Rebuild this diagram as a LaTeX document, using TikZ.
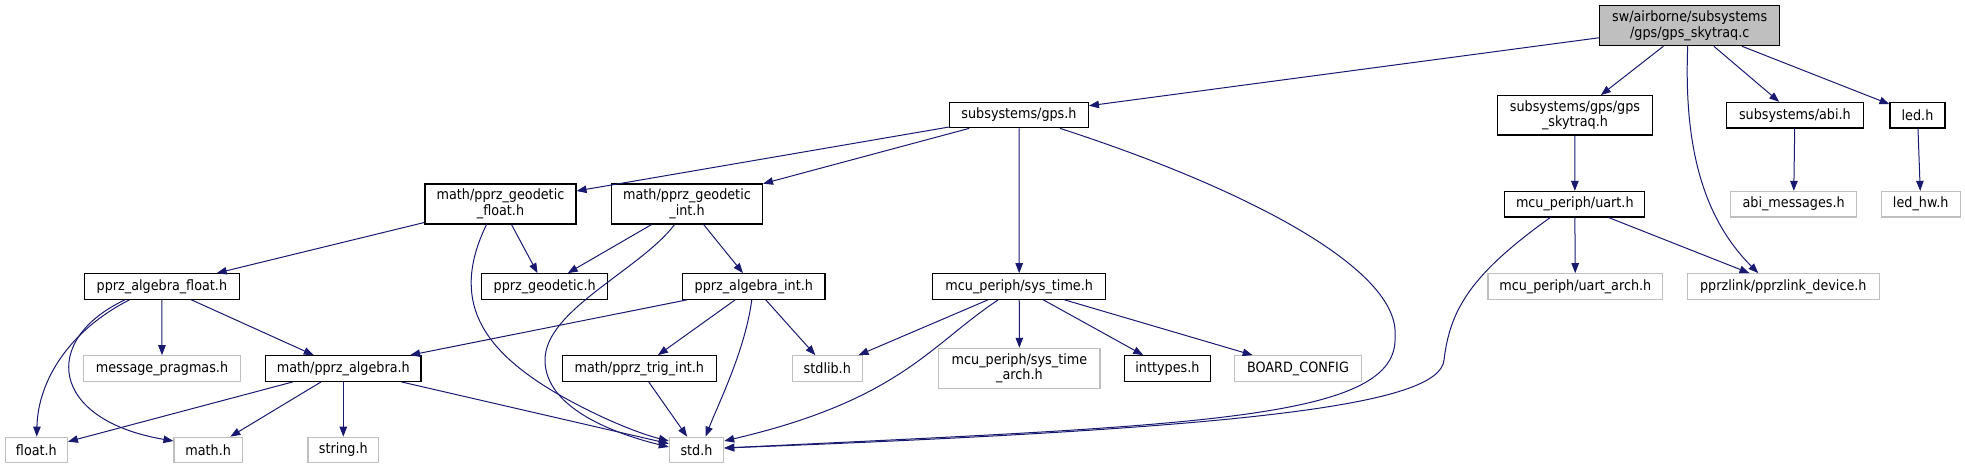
\documentclass[tikz,border=0pt]{standalone}
\usepackage{fontspec}
\setmainfont{DejaVu Sans}[FakeStretch=0.9]
\usetikzlibrary{arrows.meta, calc}
\definecolor{edgeblue}{RGB}{25,25,112}
\definecolor{boxgray}{RGB}{191,191,191}

\begin{document}
\begin{tikzpicture}[x=1pt, y=-1pt,
  hdr/.style={draw=black, fill=white, line width=1.1pt, minimum height=25.6pt,
    inner sep=2pt, align=center, font=\fontsize{14.2}{15.5}\selectfont},
  sysh/.style={hdr, draw=boxgray},
  dep/.style={draw=edgeblue, line width=1pt, -{Triangle[length=10pt,width=7.5pt]}}]
  \useasboundingbox (0,0) rectangle (1965,469);
  % rank 0
  \node[hdr, fill=boxgray, minimum width=179.8pt, minimum height=40pt] (root) at (1689.7,25.7) {sw/airborne/subsystems\\/gps/gps\_skytraq.c};
  % rank 1
  \node[hdr, minimum width=138.8pt] (gps) at (1019,115) {subsystems/gps.h};
  \node[hdr, minimum width=154.8pt, minimum height=39.3pt] (skytraq) at (1575,115.3) {subsystems/gps/gps\\\_skytraq.h};
  \node[hdr, minimum width=136.6pt] (abi) at (1794.9,115.2) {subsystems/abi.h};
  \node[hdr, minimum width=55pt] (led) at (1917.5,115.2) {led.h};
  % rank 2
  \node[hdr, minimum width=151pt, minimum height=40pt] (geofloat) at (500.5,204) {math/pprz\_geodetic\\\_float.h};
  \node[hdr, minimum width=151pt, minimum height=40pt] (geoint) at (687,204) {math/pprz\_geodetic\\\_int.h};
  \node[hdr, minimum width=140pt] (uart) at (1574.8,204.2) {mcu\_periph/uart.h};
  \node[sysh, minimum width=126.4pt] (abimsg) at (1793.6,204.2) {abi\_messages.h};
  \node[sysh, minimum width=79.3pt] (ledhw) at (1920.7,204.2) {led\_hw.h};
  % rank 3
  \node[hdr, minimum width=154.9pt] (algfloat) at (161.9,286.5) {pprz\_algebra\_float.h};
  \node[hdr, minimum width=125.9pt] (geodetic) at (544.7,286.5) {pprz\_geodetic.h};
  \node[hdr, minimum width=142.4pt] (algint) at (753.8,286.5) {pprz\_algebra\_int.h};
  \node[hdr, minimum width=173.2pt] (systime) at (1019.2,286.5) {mcu\_periph/sys\_time.h};
  \node[sysh, minimum width=174.7pt] (uartarch) at (1575.3,286.5) {mcu\_periph/uart\_arch.h};
  \node[sysh, minimum width=192.1pt] (pprzlink) at (1783.3,286.5) {pprzlink/pprzlink\_device.h};
  % rank 4
  \node[sysh, minimum width=157pt] (pragmas) at (162,368.5) {message\_pragmas.h};
  \node[hdr, minimum width=155.4pt] (algebra) at (343.3,368.5) {math/pprz\_algebra.h};
  \node[hdr, minimum width=153.5pt] (trigint) at (639.3,368.5) {math/pprz\_trig\_int.h};
  \node[sysh, minimum width=70.5pt] (stdlib) at (827.3,368.5) {stdlib.h};
  \node[sysh, minimum width=161.2pt, minimum height=40pt] (timearch) at (1019.4,368.3) {mcu\_periph/sys\_time\\\_arch.h};
  \node[hdr, minimum width=86.7pt] (inttypes) at (1167.4,368.5) {inttypes.h};
  \node[sysh, minimum width=127pt] (board) at (1298,368.5) {BOARD\_CONFIG};
  % rank 5
  \node[sysh, minimum width=62pt] (floath) at (36.4,450) {float.h};
  \node[sysh, minimum width=68.4pt] (mathh) at (208.2,450) {math.h};
  \node[sysh, minimum width=70.6pt] (stringh) at (343.3,450) {string.h};
  \node[sysh, minimum width=54.3pt] (stdh) at (696.5,450) {std.h};

  % includes of the root file
  \draw[dep] (root) -- (gps);
  \draw[dep] (root) -- (skytraq);
  \draw[dep] (root) -- (abi);
  \draw[dep] (root) -- (led);
  \draw[dep] ([xshift=-2pt]root.south) .. controls (1684,140) and (1700,215) .. ([xshift=-25pt]pprzlink.north);
  \draw[dep] (skytraq) -- (uart);
  \draw[dep] (abi) -- (abimsg);
  \draw[dep] (led) -- (ledhw);
  % gps.h
  \draw[dep] (gps) -- (geofloat);
  \draw[dep] (gps) -- (geoint);
  \draw[dep] (gps) -- (systime);
  \draw[dep] ([xshift=41pt]gps.south) .. controls (1250,190) and (1400,270) .. (1395,336)
    .. controls (1400,420) and (1200,425) .. ([yshift=2pt]stdh.east);
  % uart.h
  \draw[dep] (uart) -- (uartarch);
  \draw[dep] (uart) -- (pprzlink);
  \draw[dep] ([xshift=-24.6pt]uart.south) .. controls (1470,275) and (1450,310) .. (1444,360)
    .. controls (1440,405) and (1250,428) .. ([yshift=2pt]stdh.east);
  % geodetic headers
  \draw[dep] (geofloat) -- (algfloat);
  \draw[dep] (geofloat) -- (geodetic);
  \draw[dep] ([xshift=-14pt]geofloat.south) .. controls (450,300) and (480,350) .. (562.5,396.7)
    .. controls (610,423) and (645,435) .. ([yshift=9pt]stdh.west);
  \draw[dep] (geoint) -- (geodetic);
  \draw[dep] (geoint) -- (algint);
  \draw[dep] ([xshift=-12.4pt]geoint.south) .. controls (640,270) and (545,310) .. (545,360)
    .. controls (545,410) and (620,435) .. ([yshift=3pt]stdh.west);
  % algebra headers
  \draw[dep] ([xshift=-32.4pt]algfloat.south) .. controls (70,330) and (38,380) .. (floath);
  \draw[dep] ([xshift=-37pt]algfloat.south) .. controls (40,340) and (50,420) .. ([yshift=9pt]mathh.west);
  \draw[dep] (algfloat) -- (pragmas);
  \draw[dep] (algfloat) -- (algebra);
  \draw[dep] (algint) -- (algebra);
  \draw[dep] (algint) -- (trigint);
  \draw[dep] ([xshift=-2pt]algint.south) .. controls (745,350) and (720,400) .. ([xshift=9pt]stdh.north);
  \draw[dep] (algint) -- (stdlib);
  \draw[dep] (trigint) -- (stdh);
  \draw[dep] (algebra) -- (floath);
  \draw[dep] (algebra) -- (mathh);
  \draw[dep] (algebra) -- (stringh);
  \draw[dep] (algebra) -- (stdh);
  % sys_time.h
  \draw[dep] (systime) -- (stdlib);
  \draw[dep] ([xshift=-21pt]systime.south) .. controls (930,345) and (900,400) .. ([yshift=9pt]stdh.east);
  \draw[dep] (systime) -- (timearch);
  \draw[dep] (systime) -- (inttypes);
  \draw[dep] (systime) -- (board);
\end{tikzpicture}
\end{document}
